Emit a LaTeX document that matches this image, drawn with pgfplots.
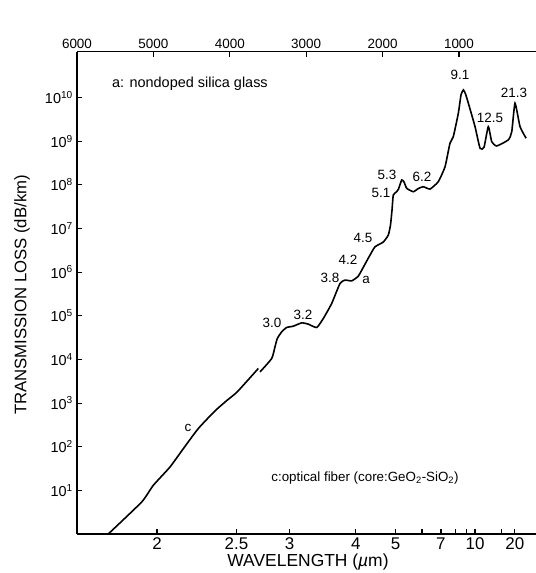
\documentclass[border=0pt]{standalone}
\usepackage{fontspec}
\setmainfont{Liberation Sans}
\usepackage{pgfplots}
\pgfplotsset{compat=1.18}

\pgfplotstableread{
nu      loss
5613    1.0
5193    5.4
5047    13.0
4837    34.2
4669    90
4481    260
4271    660
4120    1150
3998    1750
3860    3300
3726    6185
}\fiberc

\pgfplotstableread{
nu      loss
3704    5170
3557    1.05e4
3516    1.94e4
3487    3.01e4
3432    4.27e4
3369    5.39e4
3286    5.77e4
3180    6.87e4
3097    6.42e4
2991    5.39e4
2908    8.67e4
2803    1.91e5
2698    5.51e5
2635    6.56e5
2551    6.32e5
2468    8.09e5
2384    1.52e6
2321    2.45e6
2258    3.80e6
2154    4.88e6
2091    7.06e6
2063    1.2e7
2044    2.64e7
2028    5.83e7
1985    6.95e7
1962    8.0e7
1922    1.29e8
1893    1.16e8
1859    8.3e7
1776    6.95e7
1713    8.23e7
1650    9.04e7
1566    8.0e7
1462    1.18e8
1377    2.6e8
1315    8.95e8
1273    1.27e9
1210    4.36e9
1176    1.15e10
1147    1.49e10
1120    1.21e10
1084    7.4e9
1000    2.15e9
937     6.87e8
887     7.24e8
833     2.15e9
790     9.75e8
727     7.76e8
581     1.07e9
538     1.65e9
497     7.4e9
434     2.15e9
358     1.17e9
}\silica

\begin{document}
\begin{tikzpicture}[x=1bp,y=1bp]
\path[use as bounding box] (0,0) rectangle (536,-573);

% top axis (wavenumber, cm^-1)
\begin{axis}[
  at={(77bp,-534bp)}, anchor=south west,
  width=459bp, height=482.3bp, scale only axis,
  xmin=-8, xmax=6000, x dir=reverse,
  ymin=0, ymax=1,
  axis x line*=top, axis y line=none,
  axis line style={-, line width=1.4bp},
  tick align=inside, major tick length=5bp,
  tick style={line width=1.1bp, black},
  xtick={1000,2000,3000,4000,5000,6000},
  xticklabels={1000,2000,3000,4000,5000,6000},
  xticklabel style={font=\fontsize{13.5}{14}\selectfont, inner sep=3bp},
]
\end{axis}

% main axis
\begin{axis}[
  at={(77bp,-534bp)}, anchor=south west,
  width=459bp, height=482.3bp, scale only axis,
  xmin=233, xmax=6006, x dir=reverse,
  ymode=log, ymin=1, ymax=1.12e11,
  axis x line*=bottom, axis y line*=left,
  axis line style={-, line width=1.4bp},
  tick align=inside, major tick length=5bp, minor tick length=5bp,
  tick style={line width=1.1bp, black},
  xtick={5000,4000,3333.333,2500,2000,1428.571,1000,500},
  xticklabels={2,2.5,3,4,5,7,10,20},
  minor xtick={1666.667,1250,1111.111,666.667},
  xticklabel style={font=\fontsize{17}{17}\selectfont, inner sep=3.5bp},
  ytick={1e1,1e2,1e3,1e4,1e5,1e6,1e7,1e8,1e9,1e10},
  yticklabels={10\textsuperscript{1},10\textsuperscript{2},10\textsuperscript{3},10\textsuperscript{4},10\textsuperscript{5},10\textsuperscript{6},10\textsuperscript{7},10\textsuperscript{8},10\textsuperscript{9},10\textsuperscript{10}},
  yminorticks=false,
  yticklabel style={font=\fontsize{14.5}{15}\selectfont, inner sep=4bp},
]
\addplot[black, line width=1.6bp, smooth, tension=0.3] table[x=nu, y=loss] {\fiberc};
\addplot[black, line width=1.6bp, smooth, tension=0.3] table[x=nu, y=loss] {\silica};
\end{axis}

% axis titles
\node[rotate=90, font=\fontsize{16.8}{17}\selectfont] at (22,-295) {TRANSMISSION LOSS (dB/km)};
\node[font=\fontsize{17.5}{18}\selectfont] at (308,-562) {WAVELENGTH (\textit{µ}m)};

% annotations
\node[font=\fontsize{14.5}{15}\selectfont, anchor=west, inner sep=0pt] at (112,-84) {a: nondoped silica glass};
\node[font=\fontsize{13.4}{14}\selectfont] at (365,-478) {c:optical fiber (core:GeO\textsubscript{2}-SiO\textsubscript{2})};
\begin{scope}[every node/.style={font=\fontsize{13.5}{14}\selectfont, inner sep=0pt}]
\node at (460,-75) {9.1};
\node at (514,-93) {21.3};
\node at (490,-118) {12.5};
\node at (387,-175) {5.3};
\node at (422,-177) {6.2};
\node at (381,-193) {5.1};
\node at (363,-238) {4.5};
\node at (348,-260) {4.2};
\node at (330,-278) {3.8};
\node at (366,-280) {a};
\node at (272,-323) {3.0};
\node at (303,-315) {3.2};
\node at (188,-428) {c};
\end{scope}
\end{tikzpicture}
\end{document}
